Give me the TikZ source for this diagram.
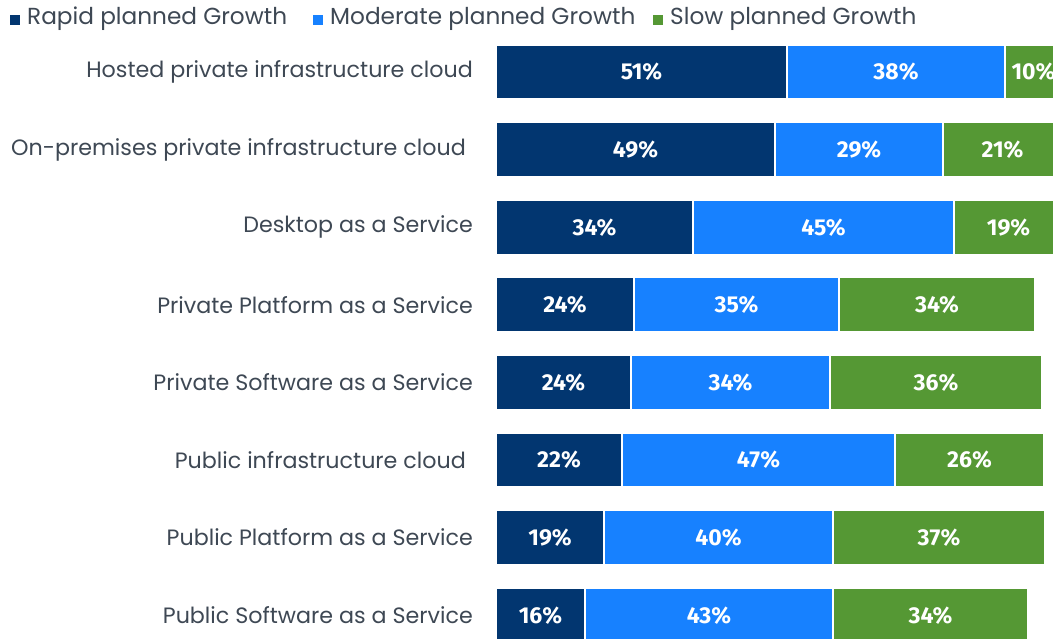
\documentclass[tikz,border=0pt]{standalone}
\usepackage{fontspec}
\setmainfont{Poppins}
\newfontfamily\pctfont{Fira Sans}
\definecolor{cRapid}{RGB}{2,54,112}
\definecolor{cMod}{RGB}{23,129,255}
\definecolor{cSlow}{RGB}{85,152,52}
\definecolor{cText}{RGB}{62,72,84}
\tikzset{
  seg/.style={draw=white, line width=1.2pt},
  pct/.style={text=white, font=\pctfont\bfseries\fontsize{23}{23}\selectfont, inner sep=0pt},
  cat/.style={text=cText, font=\fontsize{22.2}{22}\selectfont, anchor=east, inner sep=0pt},
  leg/.style={text=cText, font=\fontsize{23.2}{23}\selectfont, anchor=west, inner sep=0pt},
  legbox/.style={minimum size=10pt, inner sep=0pt, anchor=west}
}
\begin{document}
\begin{tikzpicture}[x=1pt,y=-1pt]
\useasboundingbox (0,0) rectangle (1053,639);
\fill[white] (0,0) rectangle (1053,639);
% legend
\node[legbox, fill=cRapid] (lb1) at (10,20) {};
\node[leg] (lt1) at (27,19) {Rapid planned Growth};
\node[legbox, fill=cMod] (lb2) at (313,20) {};
\node[leg] (lt2) at (330,19) {Moderate planned Growth};
\node[legbox, fill=cSlow] (lb3) at (653,20) {};
\node[leg] (lt3) at (670,19) {Slow planned Growth};
\begin{scope}
\clip (0,0) rectangle (1053,639);
\foreach \lab/\lx/\ea/\eb/\ec/\va/\vb/\vc [count=\i from 0] in {
  Hosted private infrastructure cloud/473/787/1005/1062/51/38/10,
  On-premises private infrastructure cloud/466/775/943/1062/49/29/21,
  Desktop as a Service/473/693/954/1063/34/45/19,
  Private Platform as a Service/473/634/839/1035/24/35/34,
  Private Software as a Service/473/631/830/1042/24/34/36,
  Public infrastructure cloud/466/622/895/1044/22/47/26,
  Public Platform as a Service/473/604/833/1045/19/40/37,
  Public Software as a Service/473/585/833/1028/16/43/34}{
  \pgfmathsetmacro{\yc}{72+77.6*\i}
  \pgfmathsetmacro{\yt}{\yc-27}
  \pgfmathsetmacro{\yb}{\yc+27}
  \node[cat] (cat\i) at (\lx,\yc) {\lab};
  \fill[cRapid] (496,\yt) rectangle (\ea,\yb);
  \fill[cMod] (\ea,\yt) rectangle (\eb,\yb);
  \fill[cSlow] (\eb,\yt) rectangle (\ec,\yb);
  \draw[seg] (496,\yt) rectangle (\ea,\yb);
  \draw[seg] (\ea,\yt) rectangle (\eb,\yb);
  \draw[seg] (\eb,\yt) rectangle (\ec,\yb);
  \node[pct] (pa\i) at ({(496+\ea)/2},\yc) {\va\%};
  \node[pct] (pb\i) at ({(\ea+\eb)/2},\yc) {\vb\%};
  \node[pct] (pc\i) at ({(\eb+\ec)/2},\yc) {\vc\%};
}
\end{scope}
\end{tikzpicture}
\end{document}
